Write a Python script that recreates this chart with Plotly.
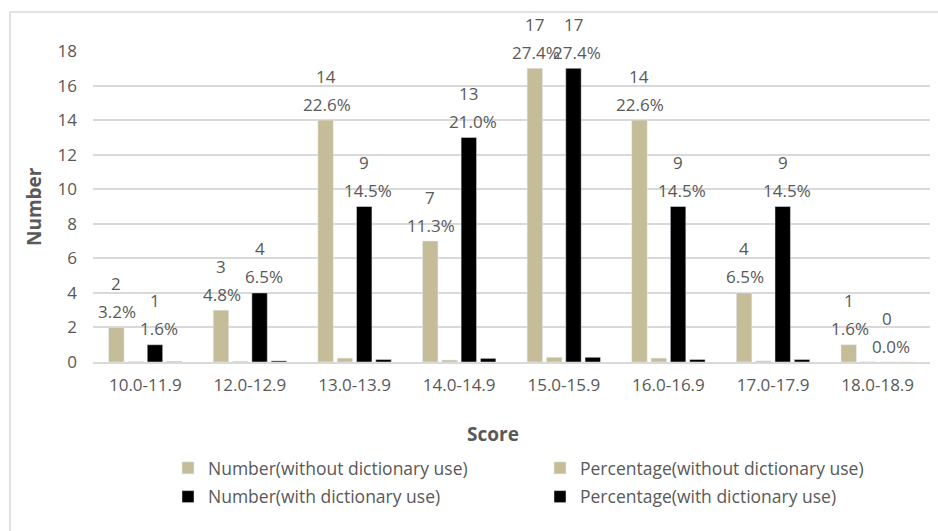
import plotly.graph_objects as go

categories = ["10.0-11.9", "12.0-12.9", "13.0-13.9", "14.0-14.9",
              "15.0-15.9", "16.0-16.9", "17.0-17.9", "18.0-18.9"]
num_without = [2, 3, 14, 7, 17, 14, 4, 1]
pct_without = [0.032, 0.048, 0.226, 0.113, 0.274, 0.226, 0.065, 0.016]
num_with = [1, 4, 9, 13, 17, 9, 9, 0]
pct_with = [0.016, 0.065, 0.145, 0.210, 0.274, 0.145, 0.145, 0.000]
y_ticks = [0, 2, 4, 6, 8, 10, 12, 14, 16, 18]

TAN = "#c4bd97"
BLACK = "#000000"
GRAY = "#595959"
GRID = "#d9d9d9"
FONT = "Open Sans"
FS = 17

W, H = 938, 531
ML, MR, MT, MB = 93, 8, 51, 169
BARGAP = 0.262
BARGROUPGAP = 0.2

fig = go.Figure()
fig.add_trace(go.Bar(x=categories, y=num_without, name="Number(without dictionary use)",
                     marker_color=TAN, legend="legend", legendgroup="a"))
fig.add_trace(go.Bar(x=categories, y=pct_without, name="Percentage(without dictionary use)",
                     marker_color=TAN, legend="legend2", legendgroup="b"))
fig.add_trace(go.Bar(x=categories, y=num_with, name="Number(with dictionary use)",
                     marker_color=BLACK, legend="legend", legendgroup="c"))
fig.add_trace(go.Bar(x=categories, y=pct_with, name="Percentage(with dictionary use)",
                     marker_color=BLACK, legend="legend2", legendgroup="d"))

# slot centres (in category units) of the grouped bars
slot = (1 - BARGAP) / 4
def slot_center(k):
    return -(1 - BARGAP) / 2 + slot * (k + 0.5)

annotations = []
for k, nums, pcts, pshift in [(0, num_without, pct_without, 1), (2, num_with, pct_with, 4)]:
    for i, (n, p) in enumerate(zip(nums, pcts)):
        xpos = i + slot_center(k)
        annotations.append(dict(x=xpos, y=n, xref="x", yref="y", text=str(n),
                                showarrow=False, yanchor="middle", yshift=44,
                                font=dict(family=FONT, size=FS, color=GRAY)))
        annotations.append(dict(x=xpos, y=n, xref="x", yref="y", text=f"{p*100:.1f}%",
                                showarrow=False, yanchor="middle", yshift=16, xshift=pshift,
                                font=dict(family=FONT, size=FS, color=GRAY)))

pw = W - ML - MR
ph = H - MT - MB
def px_x(px):
    return (px - ML) / pw
def px_y(py):
    return (H - MB - py) / ph

annotations.append(dict(x=px_x(34), y=px_y(207), xref="paper", yref="paper",
                        text="<b>Number</b>", textangle=-90, showarrow=False,
                        xanchor="center", yanchor="middle",
                        font=dict(family=FONT, size=19, color=GRAY)))
annotations.append(dict(x=px_x(493), y=px_y(434), xref="paper", yref="paper",
                        text="<b>Score</b>", showarrow=False,
                        xanchor="center", yanchor="middle",
                        font=dict(family=FONT, size=19, color=GRAY)))

fig.update_layout(
    width=W, height=H,
    margin=dict(l=ML, r=MR, t=MT, b=MB),
    paper_bgcolor="white", plot_bgcolor="white",
    barmode="group", bargap=BARGAP, bargroupgap=BARGROUPGAP,
    font=dict(family=FONT, size=FS, color=GRAY),
    annotations=annotations,
    shapes=[dict(type="rect", xref="paper", yref="paper",
                 x0=px_x(10), x1=px_x(945), y0=px_y(540), y1=px_y(12),
                 line=dict(color=GRID, width=1.5), fillcolor="rgba(0,0,0,0)")],
    legend=dict(orientation="v", x=px_x(168), xanchor="left",
                y=px_y(450), yanchor="top", traceorder="grouped", tracegroupgap=3,
                font=dict(family=FONT, size=17.5, color=GRAY),
                bgcolor="rgba(0,0,0,0)"),
    legend2=dict(orientation="v", x=px_x(540), xanchor="left",
                 y=px_y(450), yanchor="top", traceorder="grouped", tracegroupgap=3,
                 font=dict(family=FONT, size=17.5, color=GRAY),
                 bgcolor="rgba(0,0,0,0)"),
)
fig.update_xaxes(type="category", showgrid=False, showline=True, linecolor=GRID,
                 linewidth=1.5, ticks="", tickfont=dict(family=FONT, size=FS, color=GRAY),
                 ticklabelstandoff=7)
fig.update_yaxes(range=[0, 18], tickvals=y_ticks, showgrid=True, gridcolor=GRID,
                 gridwidth=1.5, zeroline=False, showline=False, ticks="",
                 tickfont=dict(family=FONT, size=FS, color=GRAY), ticklabelstandoff=15)

fig.write_html("out.html")
